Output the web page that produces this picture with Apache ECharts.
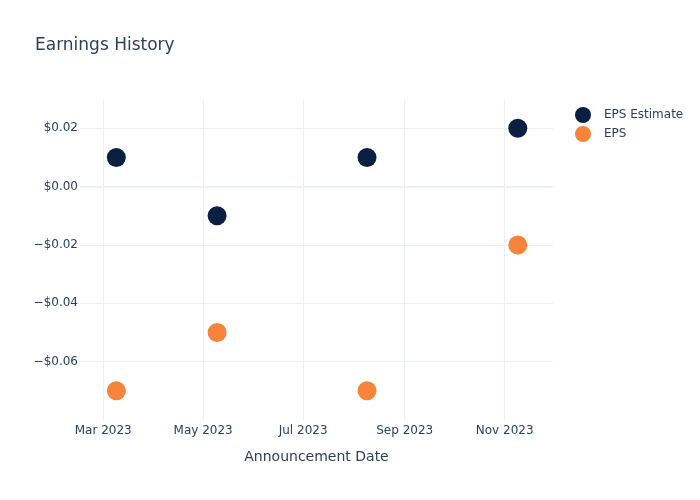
<!DOCTYPE html>
<html><head><meta charset="utf-8">
<script src="https://cdn.jsdelivr.net/npm/echarts@6/dist/echarts.min.js"></script>
<style>html,body{margin:0;padding:0;background:#fff}#c{width:700px;height:500px}</style>
</head><body><div id="c"></div>
<script>
const dates = ['2023-03-09T00', '2023-05-09T12', '2023-08-09T00', '2023-11-09T00'];
const epsEstimate = [0.01, -0.01, 0.01, 0.02];
const eps = [-0.07, -0.05, -0.07, -0.02];
const xTicks = ['2023-03-01T00', '2023-05-01T00', '2023-07-01T00', '2023-09-01T00', '2023-11-01T00'];
const yTicks = [-0.06, -0.04, -0.02, 0, 0.02];
const monthNames = ['Jan','Feb','Mar','Apr','May','Jun','Jul','Aug','Sep','Oct','Nov','Dec'];

const ts = s => { const [d, h] = s.split('T'); const p = d.split('-').map(Number); return Date.UTC(p[0], p[1]-1, p[2], Number(h)); };
const xMin = Date.UTC(2023, 1, 14, 20);
const xMax = Date.UTC(2023, 10, 30, 12);
const txt = '#2a3f5f';
const font = 'DejaVu Sans, Verdana, sans-serif';

const chart = echarts.init(document.getElementById('c'), null, {renderer: 'canvas'});
chart.setOption({
  animation: false,
  textStyle: {fontFamily: font},
  title: {text: 'Earnings History', left: 30, top: 32, textStyle: {fontFamily: font, fontSize: 17, fontWeight: 'normal', color: txt}},
  legend: {
    orient: 'vertical', left: 570, top: 102, itemWidth: 16, itemHeight: 16, itemGap: 3,
    icon: 'circle', textStyle: {fontFamily: font, fontSize: 12, color: txt, padding: [0, 0, 0, 8]},
    data: ['EPS Estimate', 'EPS']
  },
  grid: {left: 80, right: 147, top: 100, bottom: 80, containLabel: false},
  xAxis: {
    type: 'value', min: xMin, max: xMax,
    name: 'Announcement Date', nameLocation: 'middle', nameGap: 30,
    nameTextStyle: {fontFamily: font, fontSize: 14, color: txt},
    axisLine: {show: false}, axisTick: {show: false, customValues: xTicks.map(ts)},
    axisLabel: {customValues: xTicks.map(ts), margin: 5, fontSize: 12, color: txt, fontFamily: font,
      formatter: v => { const d = new Date(v); return monthNames[d.getUTCMonth()] + ' ' + d.getUTCFullYear(); }},
    splitLine: {show: true, lineStyle: {color: '#ebf0f8', width: 1}}
  },
  yAxis: {
    type: 'value', min: -0.08, max: 0.0297,
    axisLine: {show: false}, axisTick: {show: false, customValues: yTicks},
    axisLabel: {customValues: yTicks, margin: 2, fontSize: 12, color: txt, fontFamily: font,
      formatter: v => { const r = Math.round(v*100)/100; return (r < 0 ? '\u2212' : '') + '$' + Math.abs(r).toFixed(2); }},
    splitLine: {show: true, lineStyle: {color: '#ebf0f8', width: 1}}
  },
  series: [
    {name: 'EPS Estimate', type: 'scatter', symbolSize: 19, itemStyle: {color: '#0b1f41', opacity: 1},
     data: dates.map((d, i) => [ts(d), epsEstimate[i]]),
     markLine: {silent: true, symbol: 'none', label: {show: false}, lineStyle: {color: '#ebf0f8', width: 2, type: 'solid'}, data: [{yAxis: 0}]}},
    {name: 'EPS', type: 'scatter', symbolSize: 19, itemStyle: {color: '#f7843a', opacity: 1},
     data: dates.map((d, i) => [ts(d), eps[i]])}
  ]
});
</script></body></html>
